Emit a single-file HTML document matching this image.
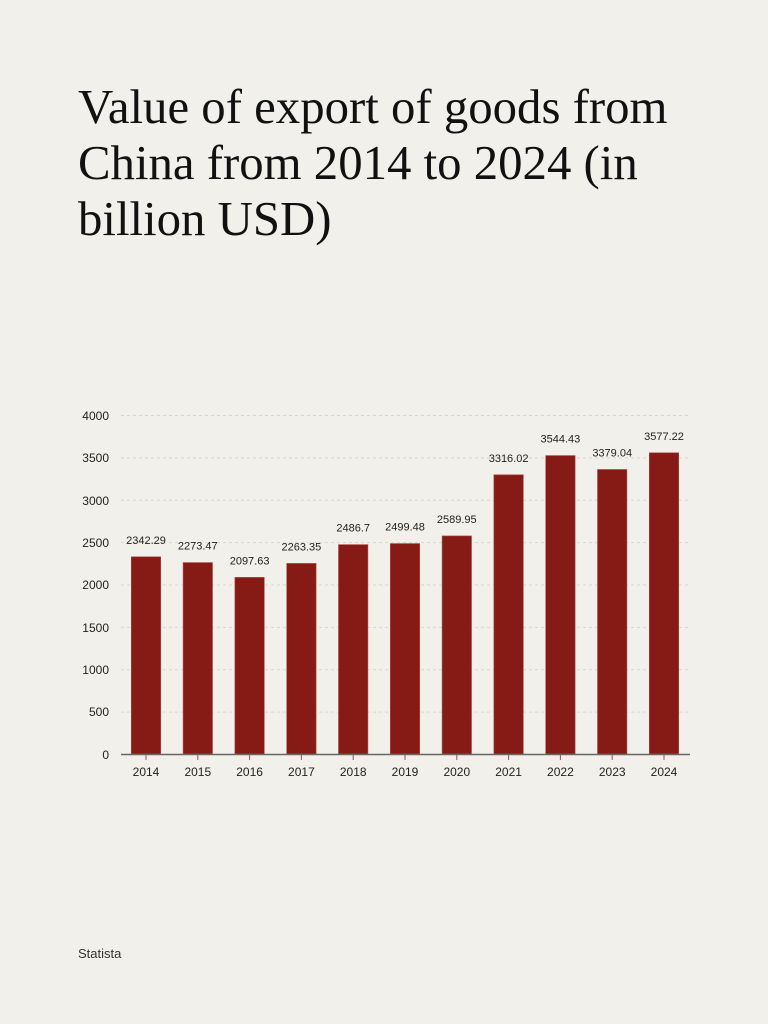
<!DOCTYPE html>
<html><head><style>
body{margin:0;width:768px;height:1024px;background:#f2f0eb;font-family:"Liberation Sans",sans-serif;position:relative;overflow:hidden}
h1{position:absolute;left:78px;top:79px;margin:0;width:680px;font-family:"Liberation Serif",serif;font-weight:normal;font-size:48.8px;line-height:56px;color:#111}
.src{position:absolute;left:78px;top:946px;font-size:13px;color:#333}
</style></head><body>
<h1>Value of export of goods from<br>China from 2014 to 2024 (in<br>billion USD)</h1>
<svg width="768" height="1024" style="position:absolute;left:0;top:0">
<g font-family="Liberation Sans, sans-serif" font-size="12" fill="#222">
<g stroke="#d8d6d0" stroke-dasharray="3,3" stroke-width="1">
<line x1="121" x2="690" y1="415.5" y2="415.5"/><line x1="121" x2="690" y1="457.9" y2="457.9"/>
<line x1="121" x2="690" y1="500.3" y2="500.3"/><line x1="121" x2="690" y1="542.6" y2="542.6"/>
<line x1="121" x2="690" y1="585" y2="585"/><line x1="121" x2="690" y1="627.4" y2="627.4"/>
<line x1="121" x2="690" y1="669.8" y2="669.8"/><line x1="121" x2="690" y1="712.1" y2="712.1"/>
</g>
<g text-anchor="end">
<text x="109" y="420">4000</text><text x="109" y="462">3500</text><text x="109" y="505">3000</text>
<text x="109" y="547">2500</text><text x="109" y="589">2000</text><text x="109" y="632">1500</text>
<text x="109" y="674">1000</text><text x="109" y="716">500</text><text x="109" y="759">0</text>
</g>
<g id="bars"></g>
<line x1="121" x2="690" y1="754.5" y2="754.5" stroke="#666" stroke-width="1.5"/>
</g>
</svg>
<div class="src">Statista</div>
<script>
var v=[2342.29,2273.47,2097.63,2263.35,2486.7,2499.48,2589.95,3316.02,3544.43,3379.04,3577.22];
var g=document.getElementById('bars'),s='';
v.forEach(function(d,i){var c=146+i*51.8,h=d*0.0842,y=754-h;
s+='<rect x="'+(c-14.7)+'" y="'+y+'" width="29.4" height="'+h+'" fill="#861a14" stroke="#b04a44" stroke-width="0.6"/>';
s+='<text x="'+c+'" y="'+(y-13)+'" text-anchor="middle" font-size="11">'+d+'</text>';
s+='<line x1="'+c+'" x2="'+c+'" y1="755" y2="760" stroke="#666"/>';
s+='<text x="'+c+'" y="776" text-anchor="middle">'+(2014+i)+'</text>';});
g.innerHTML=s;
</script>
</body></html>
